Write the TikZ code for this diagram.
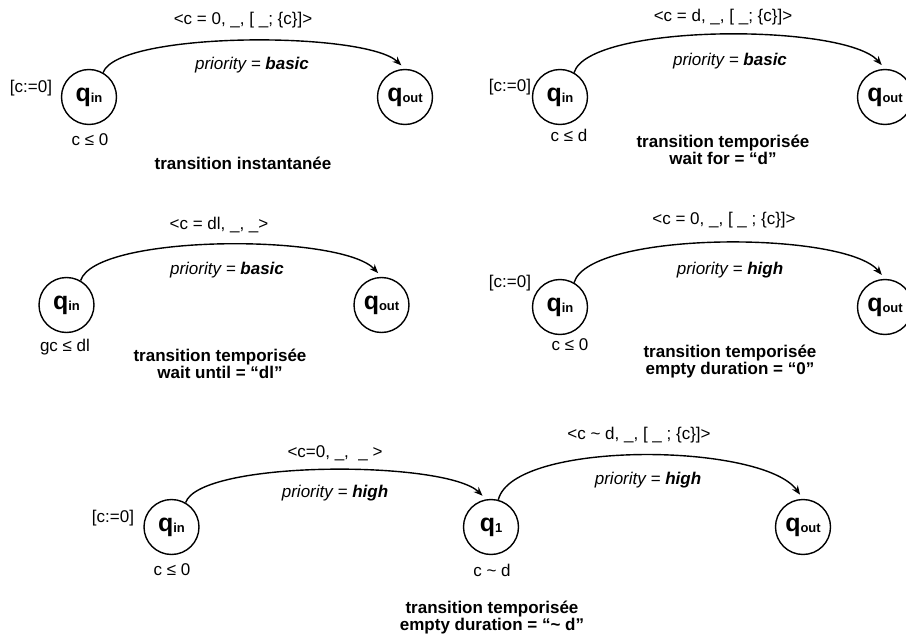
\documentclass[tikz,border=0pt]{standalone}
\usepackage{fontspec}
\setmainfont{Liberation Sans}
\usetikzlibrary{arrows.meta}
\newcommand\qlab[1]{{\fontsize{25}{25}\selectfont\bfseries q}\raisebox{-1.5pt}{\fontsize{13}{13}\selectfont\bfseries #1}}
\begin{document}
\begin{tikzpicture}[x=1pt,y=-1pt,
  every node/.style={font=\fontsize{17}{17}\selectfont, inner sep=0pt},
  state/.style={draw, circle, line width=1.4pt, minimum size=55pt, inner sep=0pt},
  arc/.style={line width=1.4pt, -{Stealth[length=9pt,width=7pt]}, shorten >=5pt},
  ttl/.style={font=\fontsize{17}{17}\selectfont\bfseries, align=center}
]
\path[use as bounding box, fill=white] (0,0) rectangle (906,642);

% Panel 1
\node[state] (qin1) at (89,97) {\qlab{in}};
\node[state] (qout1) at (405,97) {\qlab{out}};
\node (lab1) at (243,20) {<c = 0, \_, [ \_; \{c\}]>};
\node (pri1) at (252,65) {\textit{priority =} \textbf{\textit{basic}}};
\node (ini1) at (31,88) {[c:=0]};
\node (inv1) at (90,140) {c ≤ 0};
\node[ttl] (ttl1) at (243,163) {transition instantanée};
\draw[arc] (qin1.60) .. controls +(15,-41.5) and +(-40,-37.8) .. (qout1.north);

% Panel 2
\node[state] (qin2) at (560,97) {\qlab{in}};
\node[state] (qout2) at (885,97) {\qlab{out}};
\node (lab2) at (723,17) {<c = d, \_, [ \_; \{c\}]>};
\node (pri2) at (730,61) {\textit{priority =} \textbf{\textit{basic}}};
\node (ini2) at (510,87) {[c:=0]};
\node (inv2) at (569,135) {c ≤ d};
\node[ttl] (ttl2) at (723,150) {transition temporisée\\wait for = “d”};
\draw[arc] (qin2.60) .. controls +(15,-49.5) and +(-40,-45.8) .. (qout2.north);

% Panel 3
\node[state] (qin3) at (66.5,305) {\qlab{in}};
\node[state] (qout3) at (381.5,305) {\qlab{out}};
\node (lab3) at (219,225) {<c = dl, \_, \_>};
\node (pri3) at (227,270) {\textit{priority =} \textbf{\textit{basic}}};
\node (inv3) at (65,347) {gc ≤ dl};
\node[ttl] (ttl3) at (220,363.5) {transition temporisée\\wait until = “dl”};
\draw[arc] (qin3.60) .. controls +(15,-47) and +(-40,-43.3) .. (qout3.north);

% Panel 4
\node[state] (qin4) at (560,307) {\qlab{in}};
\node[state] (qout4) at (885,307) {\qlab{out}};
\node (lab4) at (724,220) {<c = 0, \_, [ \_ ; \{c\}]>};
\node (pri4) at (730,270) {\textit{priority =} \textbf{\textit{high}}};
\node (ini4) at (510,283) {[c:=0]};
\node (inv4) at (570,345) {c ≤ 0};
\node[ttl] (ttl4) at (730,361.5) {transition temporisée\\empty duration = “0”};
\draw[arc] (qin4.60) .. controls +(15,-52) and +(-40,-48.3) .. (qout4.north);

% Panel 5
\node[state] (qin5) at (171.5,527) {\qlab{in}};
\node[state] (q1) at (491,527) {\qlab{1}};
\node[state] (qout5) at (803,527) {\qlab{out}};
\node (lab5a) at (335,453) {<c=0, \_, \ \_ >};
\node (pri5a) at (335,493) {\textit{priority =} \textbf{\textit{high}}};
\node (lab5b) at (639,435) {<c \textasciitilde\ d, \_, [ \_ ; \{c\}]>};
\node (pri5b) at (648,480) {\textit{priority =} \textbf{\textit{high}}};
\node (ini5) at (113,518) {[c:=0]};
\node (inv5a) at (172,570) {c ≤ 0};
\node (inv5b) at (492,570) {c \textasciitilde\ d};
\node[ttl] (ttl5) at (492,617.5) {transition temporisée\\empty duration = “\textasciitilde\ d”};
\draw[arc] (qin5.60) .. controls +(15,-42.8) and +(-40,-39.1) .. (q1.100);
\draw[arc] (q1.75) .. controls +(15,-60) and +(-40,-56.4) .. (qout5.north);
\end{tikzpicture}
\end{document}
